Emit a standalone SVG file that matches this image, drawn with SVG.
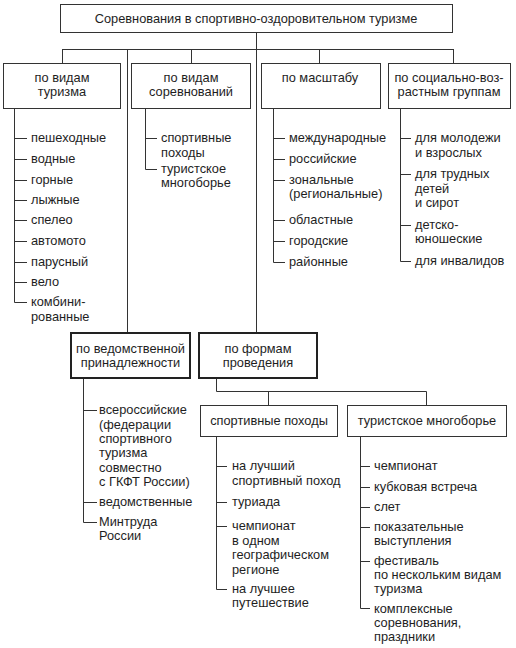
<svg xmlns="http://www.w3.org/2000/svg" width="516" height="648" viewBox="0 0 516 648">
<style>
text{font-family:"Liberation Sans",Arial,sans-serif;font-size:12.8px;fill:#1e1e1e}
.c{text-anchor:middle}
.b{fill:#fff;stroke:#333;stroke-width:1}
.bt{fill:#fff;stroke:#222;stroke-width:2}
.ln{fill:none;stroke:#333;stroke-width:1}
</style>
<rect width="516" height="648" fill="#fff"/>
<g id="connectors" class="ln">
<path d="M256.5 32V333M62.5 49.5H453.5M62.5 49V63M191.5 49V63M319.5 49V63M453.5 49V63M127.5 49V333"/>
<path d="M14.5 108V302.5H27M14.5 138.5H27M14.5 159.5H27M14.5 180.5H27M14.5 200.5H27M14.5 220.5H27M14.5 241.5H27M14.5 262.5H27M14.5 282.5H27"/>
<path d="M145.5 108V169.5H157M145.5 138.5H157"/>
<path d="M273.5 108V262.5H285M273.5 138.5H285M273.5 159.5H285M273.5 180.5H285M273.5 220.5H285M273.5 241.5H285"/>
<path d="M400.5 108V261.5H411M400.5 138.5H411M400.5 174.5H411M400.5 225.5H411"/>
<path d="M83.5 378V522.5H97M83.5 410.5H97M83.5 502.5H97"/>
<path d="M216.5 378V391.5H426.5V405M268.5 391V405"/>
<path d="M216.5 436V589.5H227M216.5 466.5H227M216.5 502.5H227M216.5 526.5H227"/>
<path d="M360.5 436V608.5H370M360.5 466.5H370M360.5 487.5H370M360.5 507.5H370M360.5 527.5H370M360.5 561.5H370"/>
</g>
<g id="root"><rect class="b" x="60.5" y="4.5" width="392" height="28"/><text class="c" x="256" y="23">Соревнования в спортивно-оздоровительном туризме</text></g>
<g id="n1"><rect class="b" x="3.5" y="63.5" width="117" height="45"/><text class="c" x="62" y="82">по видам</text><text class="c" x="62" y="96">туризма</text></g>
<g id="n2"><rect class="b" x="131.5" y="63.5" width="119" height="45"/><text class="c" x="191" y="82">по видам</text><text class="c" x="191" y="96">соревнований</text></g>
<g id="n3"><rect class="b" x="261.5" y="63.5" width="119" height="45"/><text class="c" x="320" y="82">по масштабу</text></g>
<g id="n4"><rect class="b" x="388.5" y="63.5" width="122" height="45"/><text class="c" x="449" y="82">по социально-воз-</text><text class="c" x="449" y="96">растным группам</text></g>
<g id="n1items">
<text x="31" y="142">пешеходные</text><text x="31" y="163">водные</text><text x="31" y="184">горные</text><text x="31" y="204">лыжные</text><text x="31" y="224">спелео</text><text x="31" y="245">автомото</text><text x="31" y="266">парусный</text><text x="31" y="286">вело</text><text x="31" y="306">комбини-</text><text x="31" y="320.5">рованные</text>
</g>
<g id="n2items"><text x="161" y="142">спортивные</text><text x="161" y="156.5">походы</text><text x="161" y="173">туристское</text><text x="161" y="187">многоборье</text></g>
<g id="n3items"><text x="289" y="142">международные</text><text x="289" y="163">российские</text><text x="289" y="184">зональные</text><text x="289" y="198">(региональные)</text><text x="289" y="224">областные</text><text x="289" y="245">городские</text><text x="289" y="266">районные</text></g>
<g id="n4items"><text x="415" y="142">для молодежи</text><text x="415" y="156.5">и взрослых</text><text x="415" y="178">для трудных</text><text x="415" y="192.5">детей</text><text x="415" y="207">и сирот</text><text x="415" y="229">детско-</text><text x="415" y="243">юношеские</text><text x="415" y="265">для инвалидов</text></g>
<g id="n5"><rect class="bt" x="71" y="333" width="119" height="45"/><text class="c" x="130.5" y="353">по ведомственной</text><text class="c" x="130.5" y="367">принадлежности</text></g>
<g id="n6"><rect class="bt" x="199" y="333" width="118" height="45"/><text class="c" x="258" y="353">по формам</text><text class="c" x="258" y="367">проведения</text></g>
<g id="n5items"><text x="99" y="414">всероссийские</text><text x="99" y="428.5">(федерации</text><text x="99" y="443">спортивного</text><text x="99" y="457">туризма</text><text x="99" y="471.5">совместно</text><text x="99" y="486">с ГКФТ России)</text><text x="99" y="506">ведомственные</text><text x="99" y="526">Минтруда</text><text x="99" y="540">России</text></g>
<g id="n7"><rect class="b" x="200.5" y="405.5" width="137" height="31"/><text class="c" x="269" y="425">спортивные походы</text></g>
<g id="n8"><rect class="b" x="347.5" y="405.5" width="159" height="31"/><text class="c" x="427" y="425">туристское многоборье</text></g>
<g id="n7items"><text x="232" y="470">на лучший</text><text x="232" y="484.5">спортивный поход</text><text x="232" y="506">туриада</text><text x="232" y="530">чемпионат</text><text x="232" y="544.5">в одном</text><text x="232" y="559">географическом</text><text x="232" y="573.5">регионе</text><text x="232" y="593">на лучшее</text><text x="232" y="607">путешествие</text></g>
<g id="n8items"><text x="374" y="470">чемпионат</text><text x="374" y="491">кубковая встреча</text><text x="374" y="511">слет</text><text x="374" y="531">показательные</text><text x="374" y="545">выступления</text><text x="374" y="565">фестиваль</text><text x="374" y="579">по нескольким видам</text><text x="374" y="593">туризма</text><text x="374" y="612.5">комплексные</text><text x="374" y="626.5">соревнования,</text><text x="374" y="640.5">праздники</text></g>
</svg>
